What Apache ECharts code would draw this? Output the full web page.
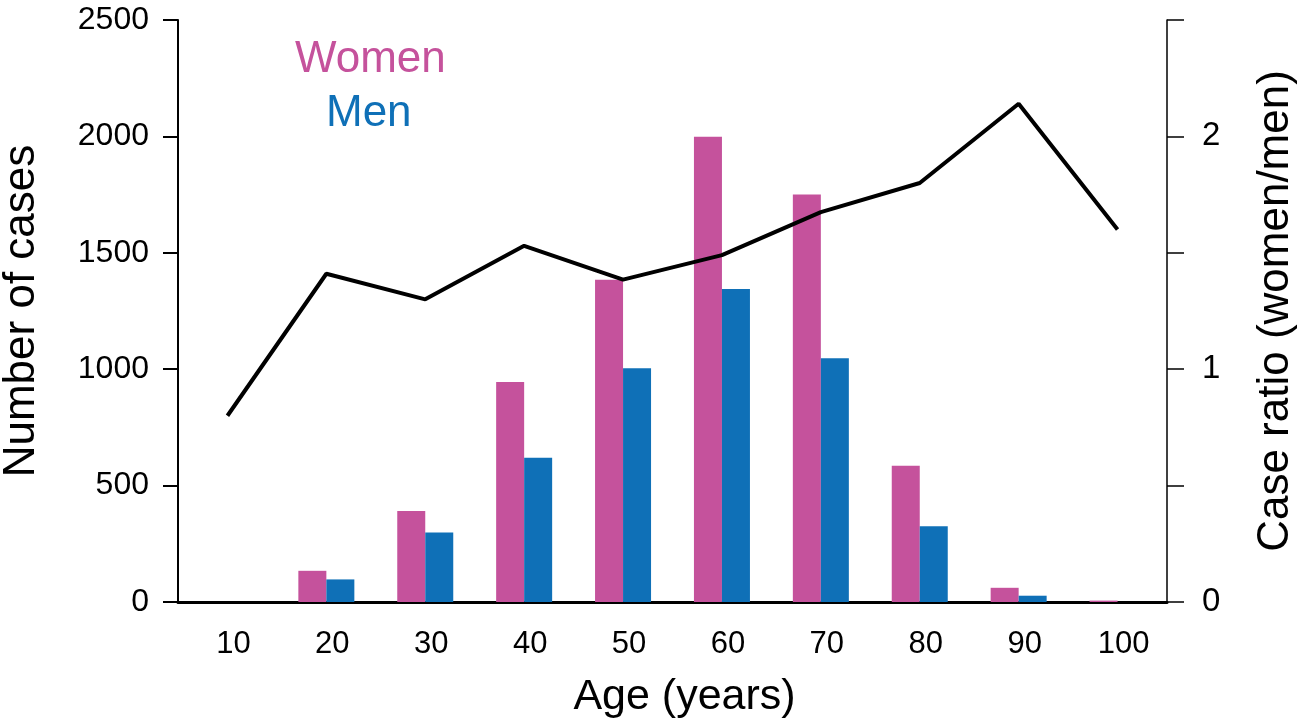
<!DOCTYPE html>
<html>
<head>
<meta charset="utf-8">
<script src="https://cdn.jsdelivr.net/npm/echarts@6/dist/echarts.min.js"></script>
<style>html,body{margin:0;padding:0;background:#fff}#c{width:1300px;height:727px}</style>
</head>
<body>
<div id="c"></div>
<script>
const categories = ['10','20','30','40','50','60','70','80','90','100'];
const women = [0, 134, 391, 945, 1384, 1998, 1750, 585, 61, 6];
const men = [0, 97, 299, 620, 1004, 1345, 1047, 325, 27, 0];
const ratio = [0.80, 1.41, 1.30, 1.53, 1.385, 1.49, 1.675, 1.80, 2.14, 1.60];
const leftTicks = [0, 500, 1000, 1500, 2000, 2500];
const rightLabels = ['0', '', '1', '', '2', ''];

const font = 'Liberation Sans, Arial, sans-serif';
const chart = echarts.init(document.getElementById('c'));
chart.setOption({
  animation: false,
  backgroundColor: '#fff',
  grid: { left: 178, right: 133, top: 20, bottom: 125, containLabel: false, outerBoundsMode: 'none' },
  graphic: [
    { type: 'text', x: 295, y: 60, style: { text: 'Women', fill: '#C5529C', font: '44px ' + font, verticalAlign: 'middle', align: 'left' } },
    { type: 'text', x: 326, y: 114, style: { text: 'Men', fill: '#0F70B7', font: '44px ' + font, verticalAlign: 'middle', align: 'left' } }
  ],
  xAxis: {
    type: 'category',
    data: categories,
    boundaryGap: true,
    name: 'Age (years)',
    nameLocation: 'middle',
    nameGap: 74,
    nameTextStyle: { fontSize: 43, color: '#000', fontFamily: font, padding: [0, 0, 0, 24] },
    axisLine: { lineStyle: { color: '#000', width: 3 } },
    axisTick: { show: false },
    axisLabel: { fontSize: 31, color: '#000', fontFamily: font, margin: 27, padding: [0, 0, 0, 12] }
  },
  yAxis: [
    {
      type: 'value', min: 0, max: 2500, interval: 500,
      name: 'Number of cases', nameLocation: 'middle', nameGap: 134,
      nameTextStyle: { fontSize: 44, color: '#000', fontFamily: font },
      axisLine: { show: true, lineStyle: { color: '#000', width: 2 } },
      axisTick: { show: true, length: 15, lineStyle: { color: '#000', width: 2 } },
      axisLabel: { fontSize: 32, color: '#000', fontFamily: font, margin: 29,
        formatter: v => leftTicks.includes(v) ? String(v) : '' },
      splitLine: { show: false }
    },
    {
      type: 'value', min: 0, max: 2.5, interval: 0.5, position: 'right',
      name: 'Case ratio (women/men)', nameLocation: 'middle', nameGap: 87,
      nameRotate: 90,
      nameTextStyle: { fontSize: 44, color: '#000', fontFamily: font },
      axisLine: { show: true, lineStyle: { color: '#000', width: 1.5 } },
      axisTick: { show: true, length: 17, lineStyle: { color: '#000', width: 1.5 } },
      axisLabel: { fontSize: 33, color: '#000', fontFamily: font, margin: 35,
        formatter: (v) => rightLabels[Math.round(v / 0.5)] || '' },
      splitLine: { show: false }
    }
  ],
  series: [
    { type: 'bar', name: 'Women', data: women, barWidth: 28, barGap: '0%',
      itemStyle: { color: '#C5529C' } },
    { type: 'bar', name: 'Men', data: men, barWidth: 28, barGap: '0%',
      itemStyle: { color: '#0F70B7' } },
    { type: 'line', name: 'Ratio', yAxisIndex: 1, data: ratio, symbol: 'none',
      lineStyle: { color: '#000', width: 4 }, z: 5 }
  ]
});
</script>
</body>
</html>
